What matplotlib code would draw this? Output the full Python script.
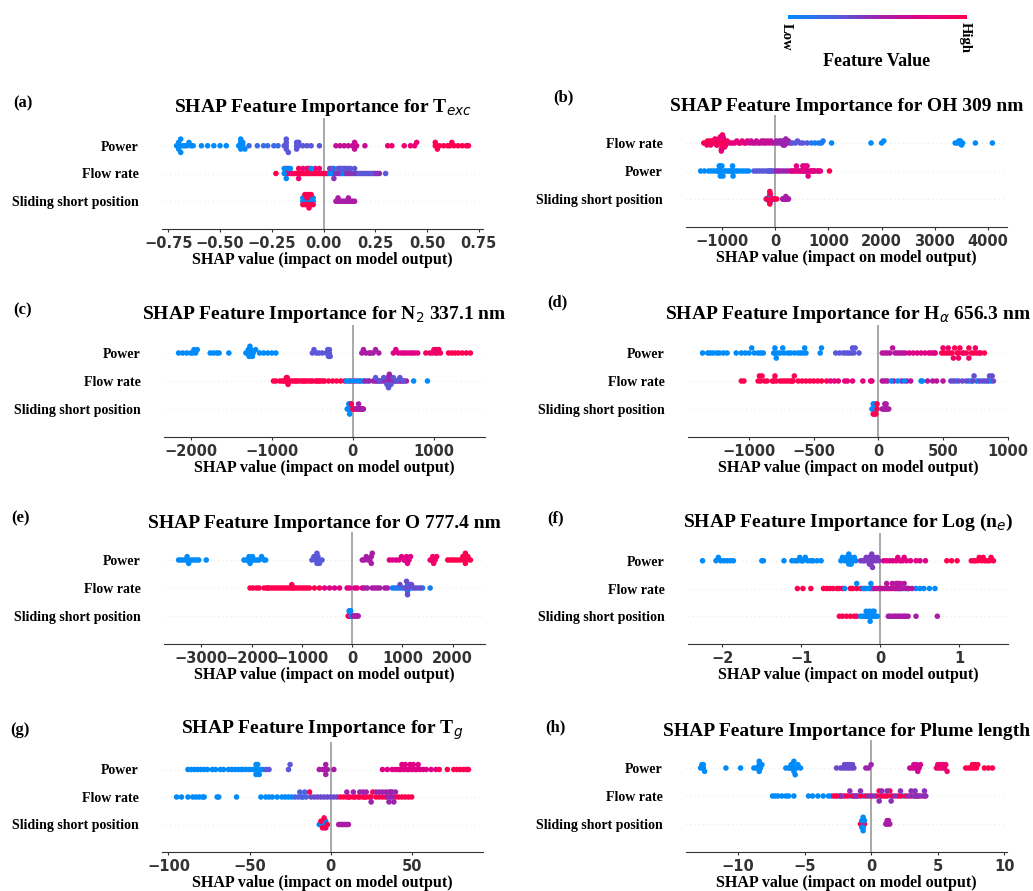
import numpy as np
import matplotlib
matplotlib.use('Agg')
import matplotlib.pyplot as plt
from matplotlib.colors import LinearSegmentedColormap

plt.rcParams['font.family'] = ['Liberation Serif', 'DejaVu Serif']
plt.rcParams['mathtext.fontset'] = 'dejavusans'

# SHAP values, grouped by feature value (0 = low, 1 = high)
a_power = [(0.0, [-0.71, -0.70, -0.70, -0.70, -0.69, -0.69, -0.68, -0.67, -0.66, -0.65, -0.64, -0.63, -0.59, -0.56, -0.53, -0.50, -0.47,
                  -0.41, -0.40, -0.40, -0.40, -0.40, -0.39, -0.39, -0.38]),
           (0.2, [-0.36, -0.32, -0.29, -0.27, -0.24, -0.22]),
           (0.3, [-0.19, -0.18, -0.18, -0.18, -0.18, -0.17, -0.13, -0.13, -0.13, -0.12, -0.12, -0.10, -0.08, -0.06, -0.02]),
           (0.65, [0.06, 0.08, 0.10, 0.12, 0.14, 0.15, 0.15, 0.15, 0.16, 0.20]),
           (0.85, [0.31, 0.33, 0.39, 0.42, 0.44, 0.45]),
           (1.0, [0.54, 0.54, 0.55, 0.56, 0.58, 0.60, 0.61, 0.62, 0.63, 0.65, 0.67, 0.69, 0.70])]
a_flow = [(1.0, [-0.23, -0.18, -0.18, -0.17, -0.15, -0.14, -0.13, -0.12, -0.12, -0.11, -0.10, -0.09, -0.08, -0.08, -0.07, -0.06,
                 -0.05, -0.04, -0.03, -0.02, -0.01, 0.00, 0.01]),
          (0.85, [-0.16, -0.12, -0.10, -0.07, -0.04, -0.02, 0.02, 0.05, 0.08, 0.12]),
          (0.0, [-0.19, -0.19, -0.18, -0.17, -0.16, -0.06, 0.03, 0.04, 0.05, 0.09, 0.10, 0.14]),
          (0.45, [0.03, 0.05, 0.06, 0.07, 0.08, 0.10, 0.11, 0.12, 0.13, 0.15, 0.16, 0.18, 0.20, 0.22, 0.24, 0.25, 0.26, 0.27]),
          (0.3, [0.04, 0.07, 0.09, 0.11, 0.13, 0.15, 0.17, 0.19, 0.21, 0.23, 0.30])]
a_slide = [(0.0, [-0.10, -0.10, -0.09, -0.09, -0.08, -0.07, -0.07, -0.06, -0.06, -0.05, -0.05]),
           (1.0, [-0.10, -0.09, -0.09, -0.08, -0.08, -0.08, -0.07, -0.07, -0.07, -0.06, -0.06, -0.05]),
           (0.55, [0.06, 0.07, 0.07, 0.08, 0.09, 0.10, 0.11, 0.12, 0.12, 0.13, 0.14, 0.15])]

b_flow = [(1.0, [-1340, -1300, -1270, -1250, -1220, -1200, -1180, -1150, -1120, -1100, -1080, -1060, -1040, -1020, -1000, -1000,
                 -990, -980, -960, -940, -920, -900]),
          (0.9, [-1280, -1210, -1130, -1090, -1050, -1030, -1010, -990, -970, -950, -930]),
          (0.8, [-1010, -980, -850, -800, -760, -720, -680, -650, -620, -580, -550, -520]),
          (0.65, [-480, -450, -420, -380, -350, -320, -280, -250, -220, -200, -170, -140, -110, -80, -50]),
          (0.5, [0, 20, 50, 80, 100, 120, 150, 170, 170, 180, 200, 220, 250, 280]),
          (0.3, [320, 380, 420, 470, 520, 600]),
          (0.1, [680, 750, 820, 870, 900]),
          (0.0, [1060, 1800, 2000, 2040, 3380, 3420, 3450, 3460, 3480, 3500, 3520, 3760, 4080])]
b_power = [(0.0, [-1400, -1330, -1250, -1200, -1150, -1100, -1080, -1060, -1050, -1040, -1030, -1030, -1020, -1000, -1000, -980,
                  -950, -920, -880, -850, -820, -800, -800, -790, -780, -740, -700, -650, -600, -550, -500]),
           (0.3, [-400, -350, -300, -250, -200, -150, -120, -100, -80, -50, -20]),
           (0.5, [20, 60, 100, 150, 200, 250]),
           (0.75, [300, 320, 350, 380, 400, 420, 450, 480, 500, 520, 540, 550, 560, 580, 600, 600, 620, 650, 680, 700, 720,
                   750, 800, 820, 850]),
           (1.0, [1020])]
b_slide = [(0.0, [-170, -150, -140, -130, -120, -110, -110, -100, -100, -100, -100, -90, -90, -90, -80, -70, -60, -40]),
           (1.0, [-160, -110, -100, -100, -90, -50, -30, -10, 30]),
           (0.55, [140, 150, 160, 170, 180, 190, 200, 200, 210, 220, 230, 240, 250])]

c_power = [(0.0, [-2150, -2100, -2050, -2000, -1980, -1960, -1940, -1920, -1760, -1720, -1680, -1650, -1530, -1320, -1300, -1290,
                  -1280, -1270, -1260, -1260, -1240, -1230, -1200, -1150, -1100, -1050, -1000, -950]),
           (0.3, [-500, -480, -450, -420, -380, -330, -310, -300, -290, -290, -280]),
           (0.55, [110, 130, 160, 200, 220, 250, 280, 320]),
           (0.75, [500, 530, 560, 600, 630, 660, 700, 730, 760, 800]),
           (0.9, [900, 950, 980, 1000, 1020, 1030, 1040, 1060, 1080]),
           (1.0, [1180, 1220, 1260, 1300, 1350, 1400, 1450])]
c_flow = [(1.0, [-980, -950, -900, -870, -850, -830, -820, -810, -810, -800, -780, -750, -720, -700, -680, -650, -620, -600,
                 -580, -550, -520, -500, -460, -440, -420, -400, -370, -350, -300, -250, -200, -150, -100, -30, 20, 80]),
          (0.0, [-80, -50, 0, 50, 100, 130, 180, 300, 420, 450, 750, 920]),
          (0.5, [150, 200, 250, 280, 320, 350, 380, 400, 430, 440, 450, 450, 460, 470, 480, 500, 520, 550, 580, 600, 630, 660]),
          (0.3, [280, 330, 380, 420, 440, 470, 500, 540, 580, 620])]
c_slide = [(0.0, [-70, -60, -50, -50, -40, -40, -40, -30, -30, -20]),
           (1.0, [-20, 0, 10, 20]),
           (0.55, [40, 50, 60, 70, 70, 80, 90, 100, 110, 120, 130])]

d_power = [(0.0, [-1360, -1320, -1300, -1280, -1250, -1230, -1200, -1170, -1100, -1060, -1030, -1000, -980, -960, -930, -910,
                  -890, -810, -800, -800, -790, -780, -760, -740, -730, -700, -680, -650, -620, -600, -580, -570, -560, -450, -440]),
           (0.3, [-330, -300, -270, -250, -230, -210, -200, -190, -180, -150]),
           (0.6, [30, 50, 70, 90, 110, 130, 150, 170, 190, 210]),
           (0.75, [240, 270, 300, 330, 360, 390, 410, 430, 440]),
           (1.0, [490, 510, 530, 550, 570, 590, 610, 620, 630, 650, 680, 700, 720, 740, 760, 790, 820]),
           (0.9, [500, 540, 580, 620, 660, 700, 750, 780])]
d_flow = [(1.0, [-1060, -1040, -930, -920, -910, -900, -880, -860, -820, -810, -800, -790, -760, -740, -720, -700, -680, -670,
                 -660, -650, -620, -590, -560, -530, -500, -470, -440, -400]),
          (0.8, [-370, -340, -310, -260, -240, -200, -120, -60, -50]),
          (0.6, [30, 50, 70, 120, 180, 220, 250, 380, 420, 450, 500]),
          (0.0, [100, 150, 200, 330, 340, 600, 700, 720, 760, 800, 850, 870]),
          (0.35, [560, 580, 620, 650, 680, 730, 740, 780, 820, 840, 860, 880, 890])]
d_slide = [(0.0, [-50, -40, -40, -30, -30, -20, -20]),
           (1.0, [-40, -30, -20, -10, -10]),
           (0.55, [30, 40, 50, 50, 60, 60, 70, 80])]

e_power = [(0.0, [-3450, -3400, -3350, -3300, -3280, -3250, -3200, -3150, -3100, -3050, -2900, -2150, -2100, -2080, -2050, -2030,
                  -2000, -1980, -1950, -1900, -1850, -1800, -1750, -1720]),
           (0.3, [-800, -760, -720, -700, -700, -700, -690, -680, -650, -600]),
           (0.55, [200, 240, 280, 320, 350, 380, 380, 400]),
           (0.75, [740, 800, 870, 930, 980, 1030, 1050, 1080, 1100, 1130, 1160]),
           (0.9, [1550, 1580, 1600, 1620, 1650, 1680]),
           (1.0, [1900, 1950, 2000, 2050, 2100, 2150, 2200, 2220, 2230, 2250, 2250, 2280, 2300, 2350])]
e_flow = [(1.0, [-2030, -1970, -1900, -1850, -1750, -1700, -1680, -1650, -1600, -1550, -1500, -1450, -1400, -1350, -1300, -1250,
                 -1200, -1200, -1180, -1150, -1100, -1050, -1000, -950, -900, -850, -750, -650]),
          (0.75, [-550, -450, -350, -250, -100, -50, 50, 100, 200]),
          (0.55, [250, 300, 400, 450, 500, 550, 650, 700]),
          (0.1, [800, 850, 900, 950, 1000, 1080, 1100, 1100, 1150, 1200, 1300, 1400, 1550]),
          (0.35, [950, 1050, 1080, 1100, 1120, 1150, 1180, 1250, 1350])]
e_slide = [(1.0, [-80, -60, -50, -40, -30]),
           (0.0, [-60, -50, -40, -30, -20, -10, 0]),
           (0.55, [20, 40, 60, 80, 100, 120])]

f_power = [(0.0, [-2.25, -2.08, -2.05, -2.02, -1.98, -1.94, -1.90, -1.86, -1.50, -1.48, -1.22, -1.12, -1.08, -1.05, -1.02, -1.00,
                  -0.98, -0.95, -0.92, -0.88, -0.85, -0.80, -0.75, -0.50, -0.48, -0.45, -0.43, -0.42, -0.41, -0.40, -0.40,
                  -0.39, -0.38, -0.37, -0.35, -0.33, -0.31]),
           (0.4, [-0.25, -0.22, -0.20, -0.18, -0.16, -0.15, -0.14, -0.13, -0.12, -0.12, -0.11, -0.10, -0.09, -0.08, -0.06, -0.04, -0.02]),
           (0.75, [0.04, 0.08, 0.12, 0.16, 0.20, 0.22, 0.25, 0.28, 0.30, 0.33, 0.38, 0.45, 0.50, 0.57]),
           (1.0, [0.84, 0.90, 0.97, 1.15, 1.18, 1.20, 1.23, 1.25, 1.28, 1.30, 1.32, 1.35, 1.38, 1.40, 1.43])]
f_flow = [(1.0, [-1.05, -0.98, -0.88, -0.72, -0.68, -0.64, -0.60, -0.55, -0.52, -0.48, -0.38, -0.35, -0.30, -0.25, -0.20, -0.12,
                 -0.05, 0.02, 0.08, 0.15]),
          (0.0, [-0.45, -0.30, -0.22, -0.18, -0.15, -0.12, -0.10, 0.25, 0.30, 0.35, 0.45, 0.50, 0.55, 0.62, 0.69]),
          (0.6, [-0.08, -0.02, 0.0, 0.05, 0.08, 0.10, 0.12, 0.15, 0.18, 0.20, 0.20, 0.22, 0.22, 0.24, 0.25, 0.27, 0.30, 0.33, 0.36, 0.40])]
f_slide = [(1.0, [-0.52, -0.48, -0.43, -0.38, -0.33, -0.30, -0.18, -0.14, -0.10]),
           (0.0, [-0.25, -0.22, -0.20, -0.18, -0.16, -0.15, -0.14, -0.13, -0.12, -0.11, -0.10, -0.09, -0.08, -0.06, -0.04]),
           (0.55, [0.10, 0.12, 0.15, 0.18, 0.20, 0.23, 0.25, 0.28, 0.30, 0.32, 0.35, 0.45, 0.72])]

g_power = [(0.0, [-88, -86, -84, -82, -80, -78, -76, -73, -71, -68, -66, -63, -61, -59, -57, -55, -54, -52, -50, -48, -47, -46,
                  -46, -45, -45, -44, -43, -42]),
           (0.3, [-40, -38, -26, -25]),
           (0.55, [-7, -5, -4, -3, -3, -2, 2]),
           (0.75, [32, 35, 38, 40, 42, 43, 44, 45, 46, 47, 48, 49, 50, 51, 52, 53, 54, 55, 57, 59, 62, 65]),
           (1.0, [67, 72, 76, 78, 80, 82, 84, 85])]
g_flow = [(0.0, [-95, -92, -88, -85, -83, -81, -79, -78, -70, -69, -58, -43, -40, -38, -36, -33, -30, -28, -26, -24]),
          (0.25, [-22, -20, -19, -18, -17, -16, -15]),
          (0.35, [-12, -10, -8, -6, -4, -2, 0, 2, 4]),
          (1.0, [-13, 6, 8, 10, 11, 12, 14, 15, 17, 18, 20, 21, 22, 24, 25, 26, 28, 30, 32, 34, 40, 42, 44, 46, 48, 50]),
          (0.5, [10, 14, 18, 20, 22, 25, 28, 30, 32, 34, 35, 36, 36, 37, 37, 38, 38, 39, 40])]
g_slide = [(0.0, [-7, -6, -5, -5, -4, -4, -4, -3, -3]),
           (1.0, [-6, -5, -4, -3, -2]),
           (0.55, [5, 6, 7, 8, 9, 10, 11])]

h_power = [(0.0, [-12.8, -12.7, -12.6, -12.6, -12.5, -10.9, -9.8, -8.8, -8.6, -8.5, -8.4, -8.4, -8.4, -8.3, -8.2, -6.4, -6.2,
                  -6.1, -6.0, -5.9, -5.9, -5.8, -5.8, -5.7, -5.6, -5.5, -5.3]),
           (0.35, [-2.6, -2.3, -2.1, -2.0, -1.9, -1.8, -1.7, -1.6, -1.5, -1.4, -1.3]),
           (0.5, [-0.4, -0.2, 0.0]),
           (0.7, [2.9, 3.1, 3.2, 3.3, 3.4, 3.5, 3.6, 3.7]),
           (0.85, [4.9, 5.0, 5.1, 5.2, 5.3, 5.4, 5.5, 5.6, 5.7]),
           (1.0, [7.1, 7.3, 7.5, 7.6, 7.7, 7.8, 7.9, 8.0, 8.5, 8.8, 9.1])]
h_flow = [(0.0, [-7.4, -7.2, -7.0, -6.7, -6.4, -6.2, -5.8, -4.7, -4.4, -4.0, -3.6, -3.2, -3.0, -2.4, -1.6, -1.3, -1.0, -0.6,
                 0.7, 1.5, 2.4, 3.3]),
          (1.0, [-2.8, -2.6, -2.3, -2.0, -1.8, -1.4, -1.1, -0.8, -0.4, 0.0, 0.4, 0.6, 0.8, 1.0, 1.2, 1.4, 1.6, 2.0, 2.2, 2.6,
                 3.0, 3.4, 3.6, 4.0]),
          (0.45, [-2.2, -1.6, -1.2, -0.8, -0.2, 0.2, 0.6, 0.8, 1.2, 1.5, 1.8, 2.2, 2.8, 3.0, 3.2, 3.3, 3.5, 3.8, 4.0, 4.1])]
h_slide = [(1.0, [-0.8, -0.7, -0.6, -0.6, -0.5]),
           (0.0, [-0.7, -0.7, -0.6, -0.6, -0.6, -0.5]),
           (0.55, [1.1, 1.2, 1.2, 1.3, 1.3, 1.4])]

titles = ['SHAP Feature Importance for T$_{exc}$', 'SHAP Feature Importance for OH 309 nm',
          'SHAP Feature Importance for N$_2$ 337.1 nm', r'SHAP Feature Importance for H$_\alpha$ 656.3 nm',
          'SHAP Feature Importance for O 777.4 nm', 'SHAP Feature Importance for Log (n$_e$)',
          'SHAP Feature Importance for T$_g$', 'SHAP Feature Importance for Plume length']
letters = ['(a)', '(b)', '(c)', '(d)', '(e)', '(f)', '(g)', '(h)']
xticks = [[-0.75, -0.5, -0.25, 0, 0.25, 0.5, 0.75], [-1000, 0, 1000, 2000, 3000, 4000], [-2000, -1000, 0, 1000],
          [-1000, -500, 0, 500, 1000], [-3000, -2000, -1000, 0, 1000, 2000], [-2, -1, 0, 1], [-100, -50, 0, 50],
          [-10, -5, 0, 5, 10]]
rows = [[('Power', a_power), ('Flow rate', a_flow), ('Sliding short position', a_slide)],
        [('Flow rate', b_flow), ('Power', b_power), ('Sliding short position', b_slide)],
        [('Power', c_power), ('Flow rate', c_flow), ('Sliding short position', c_slide)],
        [('Power', d_power), ('Flow rate', d_flow), ('Sliding short position', d_slide)],
        [('Power', e_power), ('Flow rate', e_flow), ('Sliding short position', e_slide)],
        [('Power', f_power), ('Flow rate', f_flow), ('Sliding short position', f_slide)],
        [('Power', g_power), ('Flow rate', g_flow), ('Sliding short position', g_slide)],
        [('Power', h_power), ('Flow rate', h_flow), ('Sliding short position', h_slide)]]

# layout in pixels: axes box (x0, y0, x1, y1) and panel letter position
W, H = 1033, 891
boxes = [(162, 118, 483, 229), (686, 115, 1007, 227), (164, 325, 485, 437), (688, 325, 1008, 437),
         (164, 532, 485, 644), (688, 533, 1008, 644), (162, 742, 483, 852), (686, 740, 1007, 852)]
letter_pos = [(13, 103), (553, 97), (13, 310), (547, 302), (11, 518), (547, 518), (10, 730), (545, 727)]

cmap = LinearSegmentedColormap.from_list('red_blue', ['#008bfb', '#4b63e3', '#9c23ad', '#e00086', '#ff0051'])


def px(x0, y0, x1, y1):
    return [x0 / W, 1 - y1 / H, (x1 - x0) / W, (y1 - y0) / H]


def swarm(xs, row_height=0.4, nbins=100):
    # shap-style beeswarm offsets
    xs = np.asarray(xs, float)
    quant = np.round(nbins * (xs - xs.min()) / (xs.max() - xs.min() + 1e-8))
    inds = np.argsort(quant, kind='stable')
    ys = np.zeros(len(xs))
    layer = 0
    last = -1
    for i in inds:
        if quant[i] != last:
            layer = 0
        ys[i] = np.ceil(layer / 2) * ((layer % 2) * 2 - 1)
        layer += 1
        last = quant[i]
    ys *= 0.9 * (row_height / np.max(ys + 1))
    return ys


fig = plt.figure(figsize=(W / 100, H / 100), dpi=100)

for k in range(8):
    ax = fig.add_axes(px(*boxes[k]))
    feats = rows[k]
    n = len(feats)
    for i, (name, groups) in enumerate(feats):
        pos = n - 1 - i
        xs = np.concatenate([g[1] for g in groups])
        cs = np.concatenate([[g[0]] * len(g[1]) for g in groups])
        ys = swarm(xs)
        ax.axhline(pos, color='#cccccc', lw=0.5, dashes=(1, 5), zorder=-1)
        ax.scatter(xs, pos + ys, c=cs, cmap=cmap, vmin=0, vmax=1, s=16, linewidth=0, zorder=3)
    ax.axvline(0, color='#999999', lw=1.2, zorder=-1)
    ax.set_ylim(-1, n)
    ax.set_yticks(range(n))
    ax.set_yticklabels([f[0] for f in feats][::-1], fontsize=10, fontweight='bold')
    ax.tick_params('y', length=0, pad=17)
    ax.set_xticks(xticks[k])
    ax.tick_params('x', labelsize=10.5, colors='#333333', length=2, pad=3)
    for t in ax.get_xticklabels():
        t.set_fontfamily('DejaVu Sans')
        t.set_fontweight('bold')
    for s in ['top', 'right', 'left']:
        ax.spines[s].set_visible(False)
    ax.spines['bottom'].set_color('#333333')
    ax.set_xlabel('SHAP value (impact on model output)', fontsize=11.5, fontweight='bold', labelpad=1)
    ax.set_title(titles[k], fontsize=14, fontweight='bold', pad=3)
    fig.text(letter_pos[k][0] / W, 1 - letter_pos[k][1] / H, letters[k], fontsize=12, fontweight='bold',
             ha='left', va='center')

# feature value colour bar on top
cax = fig.add_axes(px(788, 15, 966, 19))
cax.imshow(np.linspace(0, 1, 256)[None, :], aspect='auto', cmap=cmap)
cax.axis('off')
fig.text(786 / W, 1 - 37 / H, 'Low', rotation=270, fontsize=10.5, fontweight='bold', ha='center', va='center')
fig.text(965 / W, 1 - 38 / H, 'High', rotation=270, fontsize=10.5, fontweight='bold', ha='center', va='center')
fig.text(877 / W, 1 - 62 / H, 'Feature Value', fontsize=13, fontweight='bold', ha='center', va='center')

plt.savefig('out.png', dpi=100)
